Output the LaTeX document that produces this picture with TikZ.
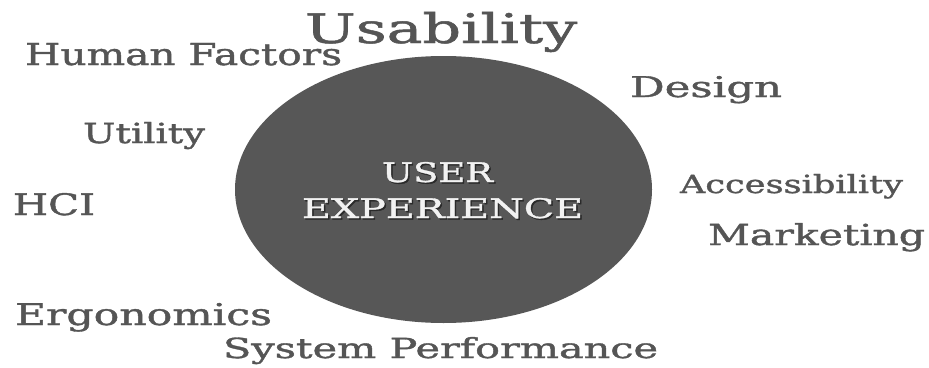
\documentclass[tikz,border=0pt]{standalone}
\usepackage{fontspec}
\setmainfont[FakeBold=1.2]{DejaVu Serif}
\usetikzlibrary{shapes.geometric}
\definecolor{labgray}{HTML}{555555}
\definecolor{discgray}{HTML}{575757}
\definecolor{shadowgray}{HTML}{2A2A2A}
\definecolor{whitetext}{HTML}{F2F2F2}
\tikzset{
  lab/.style={inner sep=0pt, outer sep=0pt, anchor=base west, text=labgray},
  inlab/.style={inner sep=0pt, outer sep=0pt, anchor=base west, text=whitetext},
  inshadow/.style={inner sep=0pt, outer sep=0pt, anchor=base west, text=shadowgray},
  disc/.style={ellipse, fill=discgray, draw=none, inner sep=0pt,
               minimum width=417pt, minimum height=267pt}
}
\begin{document}
\begin{tikzpicture}[x=1pt,y=-1pt]
\useasboundingbox[fill=white] (0,0) rectangle (929,367);
\node[disc] (ux) at (443.5,189.5) {};
% inner text with shadow
\node[inshadow] (usersh) at (383.5,183.5) {\resizebox{111pt}{20pt}{USER}};
\node[inlab] (user) at (382,182) {\resizebox{111pt}{20pt}{USER}};
\node[inshadow] (expsh) at (303.5,219.5) {\resizebox{281pt}{20pt}{EXPERIENCE}};
\node[inlab] (exp) at (302,218) {\resizebox{281pt}{20pt}{EXPERIENCE}};
% outer labels
\node[lab] (usab) at (305,43) {\resizebox{272pt}{31pt}{Usability}};
\node[lab] (hf) at (25,65) {\resizebox{317pt}{22pt}{Human Factors}};
\node[lab] (design) at (630,97) {\resizebox{152pt}{21pt}{Design}};
\node[lab] (util) at (83,143) {\resizebox{122pt}{21pt}{Utility}};
\node[lab] (hci) at (13,215) {\resizebox{82pt}{22pt}{HCI}};
\node[lab] (acc) at (680,193) {\resizebox{223pt}{19pt}{Accessibility}};
\node[lab] (mkt) at (708,245) {\resizebox{217pt}{22pt}{Marketing}};
\node[lab] (ergo) at (15,325) {\resizebox{257pt}{22pt}{Ergonomics}};
\node[lab] (sysp) at (223,358) {\resizebox{435pt}{21pt}{System Performance}};
\end{tikzpicture}
\end{document}
